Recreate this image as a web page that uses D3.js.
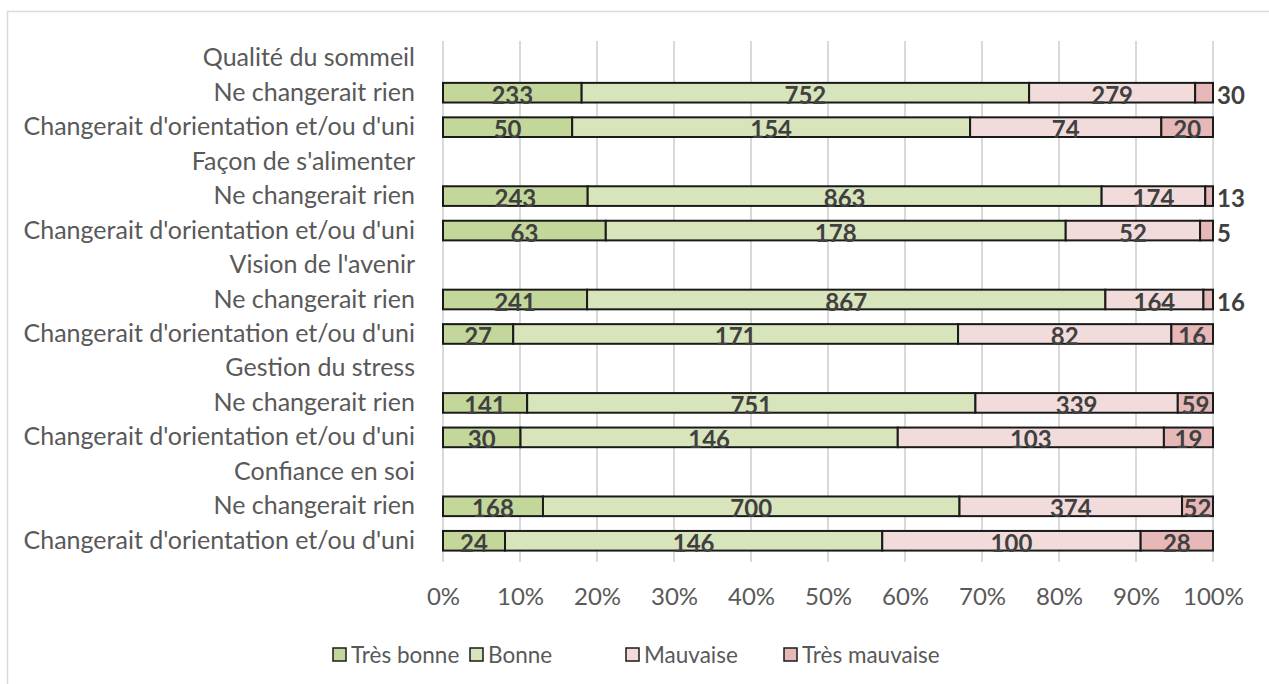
<!DOCTYPE html>
<html>
<head>
<meta charset="utf-8">
<script src="https://cdn.jsdelivr.net/npm/d3@7"></script>
<style>
  body { margin: 0; background: #fff; }
  text { font-family: Lato, "Open Sans", sans-serif; }
</style>
</head>
<body>
<div id="content"></div>
<script>
// rows top to bottom; header rows carry no values
var rows = [
    "Qualité du sommeil", "Ne changerait rien", "Changerait d'orientation et/ou d'uni",
    "Façon de s'alimenter", "Ne changerait rien", "Changerait d'orientation et/ou d'uni",
    "Vision de l'avenir", "Ne changerait rien", "Changerait d'orientation et/ou d'uni",
    "Gestion du stress", "Ne changerait rien", "Changerait d'orientation et/ou d'uni",
    "Confiance en soi", "Ne changerait rien", "Changerait d'orientation et/ou d'uni"
];
var series = ["Très bonne", "Bonne", "Mauvaise", "Très mauvaise"];
var colors = ["#c4d79b", "#d8e4bc", "#f2dcdb", "#e6b8b7"];

var tresBonne    = [null, 233, 50, null, 243, 63, null, 241, 27, null, 141, 30, null, 168, 24];
var bonne        = [null, 752, 154, null, 863, 178, null, 867, 171, null, 751, 146, null, 700, 146];
var mauvaise     = [null, 279, 74, null, 174, 52, null, 164, 82, null, 339, 103, null, 374, 100];
var tresMauvaise = [null, 30, 20, null, 13, 5, null, 16, 16, null, 59, 19, null, 52, 28];

var ticks = [0, 0.1, 0.2, 0.3, 0.4, 0.5, 0.6, 0.7, 0.8, 0.9, 1];

var W = 1269, H = 684;
var margin = {top: 41, left: 443, right: 56, bottom: 126};
var width = W - margin.left - margin.right,
    height = H - margin.top - margin.bottom;

var svg = d3.select("div#content").append("svg")
    .attr("width", W)
    .attr("height", H);

// chart frame
svg.append("rect")
    .attr("x", 7.5).attr("y", 11.5)
    .attr("width", 1290).attr("height", 700)
    .attr("fill", "none")
    .attr("stroke", "#d9d9d9")
    .attr("stroke-width", 1.5);

var g = svg.append("g")
    .attr("transform", "translate(" + margin.left + "," + margin.top + ")");

var x = d3.scaleLinear().domain([0, 1]).range([0, width]);
var y = d3.scaleBand().domain(d3.range(rows.length)).range([0, height]).paddingInner(0.43).paddingOuter(0.215);

// gridlines
g.selectAll(".grid")
    .data(ticks)
    .enter().append("line")
    .attr("x1", function(d) { return x(d); })
    .attr("x2", function(d) { return x(d); })
    .attr("y1", 0)
    .attr("y2", height + 4)
    .attr("stroke", "#d9d9d9")
    .attr("stroke-width", 2);

// x axis tick labels
var xAxis = g.append("g")
    .attr("transform", "translate(0," + height + ")")
    .call(d3.axisBottom(x).tickValues(ticks).tickFormat(d3.format(".0%")).tickSize(0).tickPadding(30));
xAxis.select(".domain").remove();
xAxis.selectAll("text")
    .style("font-family", "Lato, 'Open Sans', sans-serif")
    .style("font-size", "24px")
    .attr("fill", "#595959");

// y axis labels
var yAxis = g.append("g")
    .call(d3.axisLeft(y).tickFormat(function(i) { return rows[i]; }).tickSize(0).tickPadding(28));
yAxis.select(".domain").remove();
yAxis.selectAll("text")
    .style("font-family", "Lato, 'Open Sans', sans-serif")
    .style("font-size", "25px")
    .attr("fill", "#595959");

// stack the shares
var values = [tresBonne, bonne, mauvaise, tresMauvaise];
var segs = [];
rows.forEach(function(r, i) {
    if (tresBonne[i] === null) return;
    var total = tresBonne[i] + bonne[i] + mauvaise[i] + tresMauvaise[i];
    var acc = 0;
    values.forEach(function(arr, s) {
        segs.push({row: i, s: s, v: arr[i], x0: acc / total, x1: (acc + arr[i]) / total});
        acc += arr[i];
    });
});

g.selectAll(".bar")
    .data(segs)
    .enter().append("rect")
    .attr("class", "bar")
    .attr("x", function(d) { return x(d.x0); })
    .attr("width", function(d) { return x(d.x1) - x(d.x0); })
    .attr("y", function(d) { return y(d.row); })
    .attr("height", y.bandwidth())
    .attr("fill", function(d) { return colors[d.s]; })
    .attr("stroke", "#1a1a1a")
    .attr("stroke-width", 2);

g.selectAll(".lbl")
    .data(segs)
    .enter().append("text")
    .attr("class", "lbl")
    .attr("x", function(d) {
        var w = x(d.x1) - x(d.x0);
        if (w < 22) return x(d.x1) + 4;
        return (x(d.x0) + x(d.x1)) / 2;
    })
    .attr("text-anchor", function(d) {
        return (x(d.x1) - x(d.x0) < 22) ? "start" : "middle";
    })
    .attr("y", function(d) { return y(d.row) + y.bandwidth() / 2 + 11; })
    .style("font-size", "24px")
    .style("font-weight", "bold")
    .attr("fill", "#404040")
    .text(function(d) { return d.v; });

// legend
var legendX = [333, 470, 626, 784];
var legend = svg.selectAll(".leg")
    .data(series)
    .enter().append("g")
    .attr("transform", function(d, i) { return "translate(" + legendX[i] + ",655)"; });
legend.append("rect")
    .attr("x", 0).attr("y", -7)
    .attr("width", 13).attr("height", 13)
    .attr("fill", function(d, i) { return colors[i]; })
    .attr("stroke", "#1a1a1a")
    .attr("stroke-width", 1.5);
legend.append("text")
    .attr("x", 18).attr("y", 8)
    .style("font-size", "22.5px")
    .attr("fill", "#595959")
    .text(function(d) { return d; });
</script>
</body>
</html>
